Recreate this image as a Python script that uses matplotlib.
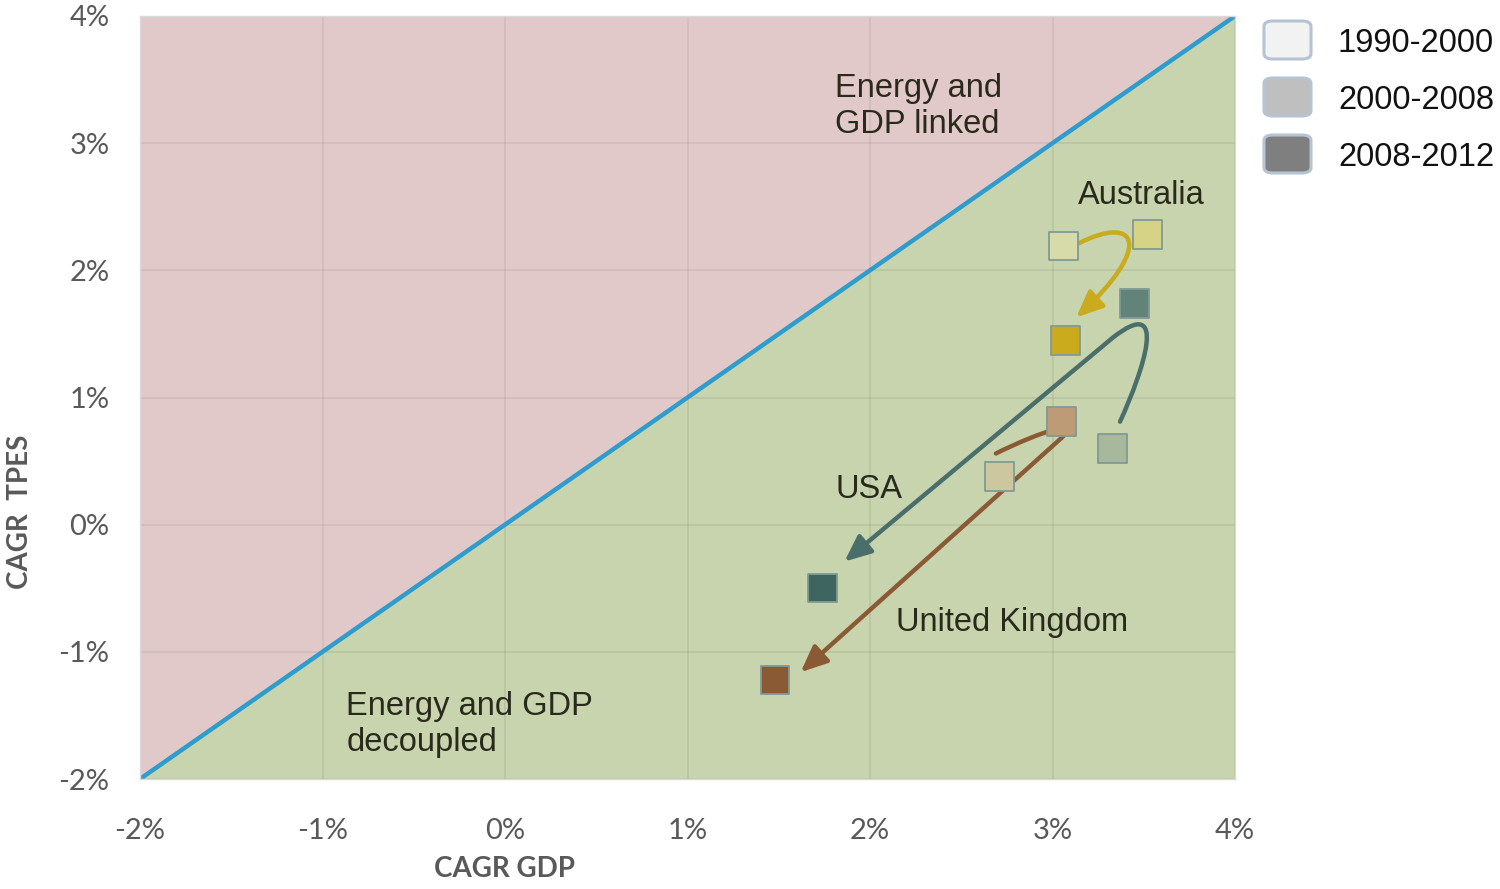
import numpy as np
import matplotlib
matplotlib.use("Agg")
import matplotlib.pyplot as plt
from matplotlib.path import Path
from matplotlib.patches import FancyArrowPatch, FancyBboxPatch
from matplotlib.ticker import FuncFormatter, MultipleLocator

# CAGR of GDP (x) and of total primary energy supply (y), in %
periods = ["1990-2000", "2000-2008", "2008-2012"]
countries = ["Australia", "USA", "United Kingdom"]
gdp = {
    "Australia": [3.06, 3.52, 3.07],
    "USA": [3.33, 3.45, 1.74],
    "United Kingdom": [2.71, 3.05, 1.48],
}
tpes = {
    "Australia": [2.19, 2.28, 1.45],
    "USA": [0.60, 1.74, -0.50],
    "United Kingdom": [0.38, 0.81, -1.22],
}
colors = {
    "Australia": ["#d7dba9", "#d6d386", "#c9ab1d"],
    "USA": ["#a7b89c", "#628478", "#3f6561"],
    "United Kingdom": ["#cdc7a0", "#bc9b76", "#8a5a35"],
}
arrow_color = {"Australia": "#c9ab1d", "USA": "#4a6e6a", "United Kingdom": "#8a5a35"}

# waypoints of the curved arrows (cubic bezier, then straight run to the tip)
arrow_path = {
    "Australia": [(3.14, 2.21), (3.47, 2.45), (3.55, 2.18), (3.13, 1.63)],
    "USA": [(3.37, 0.81), (3.50, 1.22), (3.64, 1.82), (3.33, 1.47), (1.86, -0.29)],
    "United Kingdom": [(2.69, 0.56), (2.93, 0.73), (3.18, 0.85), (3.04, 0.67), (1.62, -1.16)],
}

legend_fill = ["#f2f2f2", "#bfbfbf", "#7f7f7f"]
ticks = [-2, -1, 0, 1, 2, 3, 4]

plt.rcParams["font.family"] = ["Liberation Sans", "DejaVu Sans"]

fig = plt.figure(figsize=(15, 8.89), dpi=100)
ax = fig.add_axes([140 / 1500, 110 / 889, 1095 / 1500, 763 / 889])
ax.set_xlim(-2, 4)
ax.set_ylim(-2, 4)

# regions above / below the 1:1 line
ax.fill([-2, -2, 4], [-2, 4, 4], color="#e2c9c9", zorder=0, lw=0)
ax.fill([-2, 4, 4], [-2, -2, 4], color="#c7d4ae", zorder=0, lw=0)
for t in ticks:
    ax.axvline(t, color="black", alpha=0.07, lw=1.2, zorder=1)
    ax.axhline(t, color="black", alpha=0.07, lw=1.2, zorder=1)
ax.plot([-2, 4], [-2, 4], color="#2e9ccd", lw=3.2, zorder=2, solid_capstyle="round")

for c in countries:
    pts = arrow_path[c]
    if len(pts) == 4:
        codes = [Path.MOVETO, Path.CURVE4, Path.CURVE4, Path.CURVE4]
    else:
        codes = [Path.MOVETO, Path.CURVE4, Path.CURVE4, Path.CURVE4, Path.LINETO]
    arr = FancyArrowPatch(path=Path(pts, codes), arrowstyle="-|>,head_length=16,head_width=7",
                          color=arrow_color[c], lw=3.2, zorder=3)
    ax.add_patch(arr)
    ax.scatter(gdp[c], tpes[c], s=420, marker="s", c=colors[c],
               edgecolors="#809b95", linewidths=1.3, zorder=4)

txt = dict(fontsize=23.5, color="#2a2a1c")
ax.text(1.81, 3.29, "Energy and\nGDP linked", ha="left", va="center", linespacing=1.2, **txt)
ax.text(3.14, 2.585, "Australia", ha="left", va="center", **txt)
ax.text(1.81, 0.274, "USA", ha="left", va="center", **txt)
ax.text(2.14, -0.772, "United Kingdom", ha="left", va="center", **txt)
ax.text(-0.87, -1.57, "Energy and GDP\ndecoupled", ha="left", va="center", linespacing=1.2, **txt)

ax.xaxis.set_major_locator(MultipleLocator(1))
ax.yaxis.set_major_locator(MultipleLocator(1))
pct = FuncFormatter(lambda v, p: f"{v:.0f}%")
ax.xaxis.set_major_formatter(pct)
ax.yaxis.set_major_formatter(pct)
ax.tick_params(length=0, labelsize=21, labelcolor="#595959")
ax.tick_params(axis="x", pad=28)
ax.tick_params(axis="y", pad=22)
for lab in ax.get_xticklabels() + ax.get_yticklabels():
    lab.set_fontfamily(["Lato", "DejaVu Sans"])
for s in ax.spines.values():
    s.set_color("#d9d9d9")
    s.set_linewidth(1)

ax.set_xlabel("CAGR GDP", fontsize=20, fontweight="bold", color="#595959", family=["Lato", "DejaVu Sans"])
ax.xaxis.set_label_coords((505 - 140) / 1095, (779 - 856) / 763)
ax.set_ylabel("CAGR  TPES", fontsize=20, fontweight="bold", color="#595959", family=["Lato", "DejaVu Sans"])
ax.yaxis.set_label_coords((33 - 140) / 1095, (779 - 512) / 763)

# period key on the right
for i, (p, fc) in enumerate(zip(periods, legend_fill)):
    yc = 1 - (40 + 57 * i) / 889
    box = FancyBboxPatch((1264 / 1500, yc - 19 / 889), 47 / 1500, 38 / 889,
                         boxstyle="round,pad=0,rounding_size=0.006", transform=fig.transFigure,
                         facecolor=fc, edgecolor="#b5c3d3", lw=2.2)
    fig.patches.append(box)
    fig.text(1338 / 1500, yc - 3 / 889, p, fontsize=23.5, color="#111111", va="center", ha="left")

fig.savefig("out.png", dpi=100)
